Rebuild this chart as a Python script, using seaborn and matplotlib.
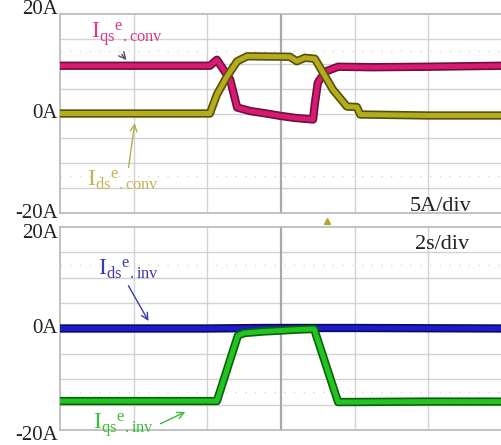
import matplotlib
matplotlib.use("Agg")
import matplotlib.pyplot as plt
import matplotlib.patheffects as pe
from matplotlib.lines import Line2D
import seaborn as sns

sns.set_theme(style="white")
plt.rcParams["font.family"] = ["Liberation Serif", "DejaVu Serif"]
plt.rcParams["mathtext.fontset"] = "custom"
plt.rcParams["mathtext.rm"] = "Liberation Serif"
plt.rcParams["mathtext.it"] = "Liberation Serif:italic"

# converter currents (A) versus time (s)
iqs_conv_t = [0, 4.07, 4.26, 4.62, 4.81, 5.16, 5.6, 6.0, 6.4, 6.87, 6.92, 7.0, 7.2, 7.55, 8.5, 10.0, 12.0]
iqs_conv_a = [9.6, 9.6, 10.8, 6.8, 1.2, 0.5, 0.0, -0.5, -0.9, -1.2, 2.0, 6.2, 8.4, 9.4, 9.3, 9.4, 9.6]

ids_conv_t = [0, 4.07, 4.26, 4.53, 4.81, 5.08, 6.24, 6.43, 6.65, 6.92, 7.41, 7.79, 8.06, 8.15, 10.0, 12.0]
ids_conv_a = [0.0, 0.0, 3.8, 7.4, 10.5, 11.5, 11.4, 10.5, 11.2, 11.0, 4.8, 1.4, 1.3, -0.2, -0.4, -0.4]

# inverter currents (A) versus time (s)
ids_inv_t = [0, 4.0, 5.5, 8.0, 12.0]
ids_inv_a = [0.0, 0.0, 0.1, 0.1, 0.0]

iqs_inv_t = [0, 4.26, 4.83, 5.0, 5.5, 6.0, 6.5, 6.9, 7.55, 10.0, 12.0]
iqs_inv_a = [-14.3, -14.3, -1.4, -0.9, -0.6, -0.4, -0.2, -0.1, -14.5, -14.4, -14.4]

ytick_vals = [20, 0, -20]
ytick_text = ["20A", "0A", "-20A"]

W, H = 502, 445
fig = plt.figure(figsize=(W / 100, H / 100), dpi=100)
fig.patch.set_facecolor("white")


def px_axes(left, top, right, bottom):
    return fig.add_axes([left / W, 1 - bottom / H, (right - left) / W, (bottom - top) / H])


ax1 = px_axes(60, 14, 502, 213)
ax2 = px_axes(60, 227, 502, 430)

grid_col = "#d2d2d2"
for ax in (ax1, ax2):
    ax.set_xlim(0, 12)
    ax.set_ylim(-20, 20)
    ax.set_facecolor("white")
    for y in range(-15, 20, 5):
        ax.axhline(y, color=grid_col, lw=1.0, zorder=0)
    for x in range(2, 12, 2):
        ax.axvline(x, color="#a8a8a8" if x == 6 else grid_col,
                   lw=1.6 if x == 6 else 1.0, zorder=0)
    for y in (12.5, -12.5):
        ax.axhline(y, color="#d8d8d8", lw=1.0, ls=(0, (1, 6)), zorder=0)
    for s in ax.spines.values():
        s.set_color("#b8b8b8")
        s.set_linewidth(1.2)
    ax.spines["right"].set_visible(False)
    ax.set_xticks([])
    ax.set_yticks(ytick_vals)
    ax.set_yticklabels([])
    ax.tick_params(axis="y", length=0)
    ax.set_xlabel("")
    ax.set_ylabel("")

# amplitude labels, nudged a little off their gridlines as on the scope screen
label_shift = {ax1: [1.0, 0.0, -0.2], ax2: [-1.2, 0.0, -1.0]}
for ax in (ax1, ax2):
    for v, s, d in zip(ytick_vals, ytick_text, label_shift[ax]):
        ax.text(-0.005, v + d, s, transform=ax.get_yaxis_transform(),
                ha="right", va="center", fontsize=15, color="#222222", clip_on=False)


def trace(ax, t, a, color, edge):
    sns.lineplot(x=t, y=a, ax=ax, color=color, lw=3.6, zorder=3,
                 path_effects=[pe.Stroke(linewidth=6.0, foreground=edge), pe.Normal()])


trace(ax1, iqs_conv_t, iqs_conv_a, "#d81b72", "#6e0f3c")
trace(ax1, ids_conv_t, ids_conv_a, "#b4ac1c", "#55500c")
trace(ax2, ids_inv_t, ids_inv_a, "#1c1cc8", "#0a0a66")
trace(ax2, iqs_inv_t, iqs_inv_a, "#22c422", "#0c600c")

lab_kw = dict(fontsize=17, zorder=5)
ax1.text(0.85, 15.0, r"$\mathrm{I}_{\mathrm{qs}}{}^{\mathrm{e}}{}_{\mathrm{.conv}}$",
         color="#d63a8a", **lab_kw)
ax1.annotate("", xy=(1.85, 10.3), xytext=(1.63, 12.3),
             arrowprops=dict(arrowstyle="->", color="#5a4a6a", lw=1.0))
ax1.text(0.74, -14.6, r"$\mathrm{I}_{\mathrm{ds}}{}^{\mathrm{e}}{}_{\mathrm{.conv}}$",
         color="#c2b452", **lab_kw)
ax1.annotate("", xy=(2.04, -1.4), xytext=(1.85, -11.4),
             arrowprops=dict(arrowstyle="->", color="#b8aa50", lw=1.0))

ax2.text(1.03, 10.4, r"$\mathrm{I}_{\mathrm{ds}}{}^{\mathrm{e}}{}_{\mathrm{.inv}}$",
         color="#3a3ab0", **lab_kw)
ax2.annotate("", xy=(2.44, 1.0), xytext=(1.82, 8.9),
             arrowprops=dict(arrowstyle="->", color="#3a3ab0", lw=1.0))
ax2.text(0.90, -19.8, r"$\mathrm{I}_{\mathrm{qs}}{}^{\mathrm{e}}{}_{\mathrm{.inv}}$",
         color="#3cbc3c", **lab_kw)
ax2.annotate("", xy=(3.47, -16.2), xytext=(2.66, -19.0),
             arrowprops=dict(arrowstyle="->", color="#3cbc3c", lw=1.0))

fig.text(410 / W, 1 - 211 / H, "5A/div", fontsize=16, color="#222222")
fig.text(415 / W, 1 - 249 / H, "2s/div", fontsize=16, color="#222222")
fig.add_artist(Line2D([327 / W], [1 - 221 / H], transform=fig.transFigure,
                      marker="^", markersize=4, color="#b0a830", lw=0))

fig.savefig("out.png", dpi=100, facecolor="white")
